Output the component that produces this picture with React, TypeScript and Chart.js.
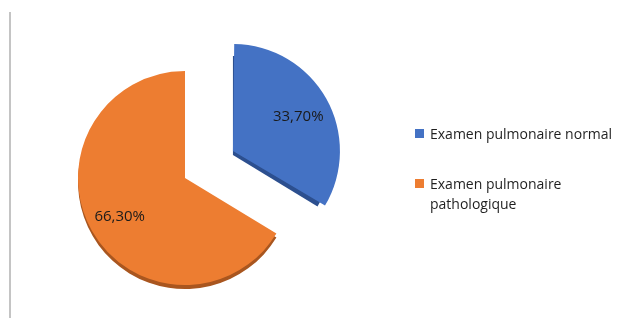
import React, { useEffect, useRef } from "react";
import { Chart, registerables } from "chart.js";

Chart.register(...registerables);

const categories = ["Examen pulmonaire normal", "Examen pulmonaire pathologique"];
const values = [33.7, 66.3];
const sliceColors = ["#4472C4", "#ED7D31"];
const edgeColors = ["#2C4F8F", "#A9561F"];
const explode = [220, 0];

const FONT = "'Open Sans', 'Noto Sans', sans-serif";
const DEPTH = 4;
const LABEL_POS = 0.7;

const fmt = (v: number) => v.toFixed(2).replace(".", ",") + "%";

const piePlugin = {
  id: "pie3dLabels",
  beforeDatasetsDraw(chart: any) {
    const meta = chart.getDatasetMeta(0);
    const ctx = chart.ctx;
    meta.data.forEach((el: any, i: number) => {
      const p = el.getProps(["x", "y", "startAngle", "endAngle", "circumference", "outerRadius"], true);
      const off = (explode[i] || 0) / 4;
      const fix = 1 - Math.sin(Math.min(Math.PI, p.circumference || 0));
      el.$origR = p.outerRadius;
      el.outerRadius = p.outerRadius - off * fix;
      const half = (p.startAngle + p.endAngle) / 2;
      ctx.save();
      ctx.translate(Math.cos(half) * off, Math.sin(half) * off + DEPTH);
      ctx.beginPath();
      ctx.moveTo(p.x, p.y);
      ctx.arc(p.x, p.y, el.outerRadius, p.startAngle, p.endAngle);
      ctx.closePath();
      ctx.fillStyle = edgeColors[i];
      ctx.fill();
      ctx.restore();
    });
  },
  afterDatasetsDraw(chart: any) {
    const meta = chart.getDatasetMeta(0);
    const ctx = chart.ctx;
    meta.data.forEach((el: any, i: number) => {
      const r = el.$origR !== undefined ? el.$origR : el.outerRadius;
      el.outerRadius = r;
      const p = el.getProps(["x", "y", "startAngle", "endAngle"], true);
      const off = (explode[i] || 0) / 4;
      const half = (p.startAngle + p.endAngle) / 2;
      const d = off + r * LABEL_POS;
      const lx = p.x + Math.cos(half) * d;
      const ly = p.y + Math.sin(half) * d + 2;
      ctx.save();
      ctx.font = `15px ${FONT}`;
      ctx.fillStyle = "#1a1a1a";
      ctx.textAlign = "center";
      ctx.textBaseline = "middle";
      ctx.fillText(fmt(values[i]), lx, ly);
      ctx.restore();
    });
  },
};

export default function App() {
  const ref = useRef<HTMLCanvasElement | null>(null);

  useEffect(() => {
    if (!ref.current) return;
    const chart = new Chart(ref.current, {
      type: "pie",
      data: {
        labels: categories,
        datasets: [
          {
            data: values,
            backgroundColor: sliceColors,
            borderWidth: 0,
            offset: explode,
          },
        ],
      },
      options: {
        responsive: false,
        animation: false,
        events: [],
        radius: 107,
        layout: { padding: { left: 0, right: 250, top: 40, bottom: 2 } },
        plugins: {
          legend: { display: false },
          tooltip: { enabled: false },
        },
      } as any,
      plugins: [piePlugin as any],
    });
    return () => chart.destroy();
  }, []);

  const legendTops = [124, 174];
  return (
    <div style={{ position: "absolute", left: 0, top: 0, width: 620, height: 318, background: "#fff", overflow: "hidden" }}>
      <canvas ref={ref} width={620} height={318} style={{ position: "absolute", left: 0, top: 0 }} />
      <div style={{ position: "absolute", left: 9, top: 12, width: 2, height: 306, background: "#c4c4c4" }} />
      {categories.map((c, i) => (
        <div key={c} style={{ position: "absolute", left: 415, top: legendTops[i], width: 190, fontFamily: FONT, fontSize: 14, lineHeight: "19.5px", color: "#1f1f1f" }}>
          <span style={{ position: "absolute", left: 0, top: 5, width: 9, height: 9, background: sliceColors[i] }} />
          <div style={{ marginLeft: 15, width: i === 1 ? 140 : 190 }}>{c}</div>
        </div>
      ))}
    </div>
  );
}
